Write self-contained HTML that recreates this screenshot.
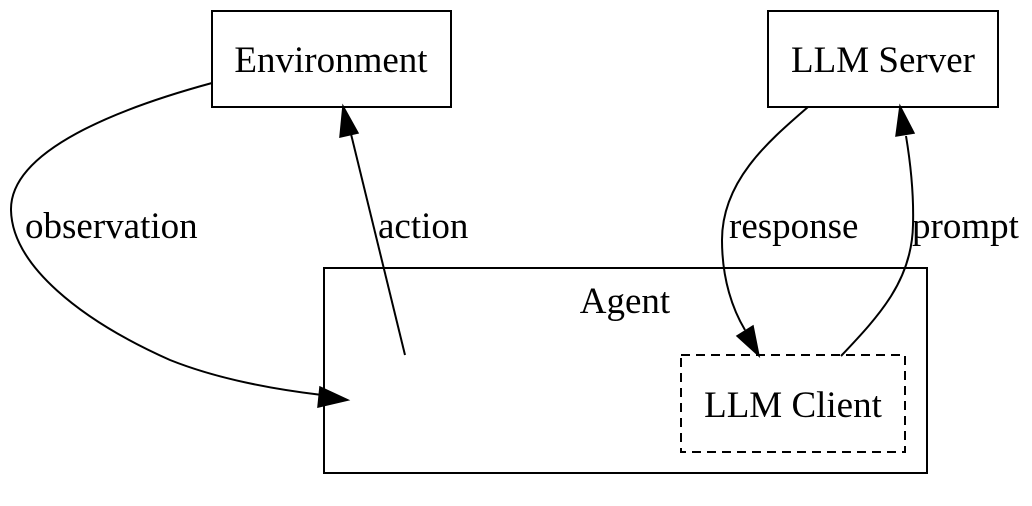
<!DOCTYPE html>
<html><head><meta charset="utf-8"><style>
html,body{margin:0;padding:0;background:#fff;}
svg{display:block;}
text{font-family:"Liberation Serif",serif;font-size:37px;fill:#000;}
</style></head><body>
<svg width="1032" height="506" viewBox="0 0 1032 506">
<g fill="none" stroke="#000" stroke-width="2">
<rect x="212" y="11" width="239" height="96"/>
<rect x="768" y="11" width="230" height="96"/>
<rect x="324" y="268" width="603" height="205"/>
<rect x="681" y="355" width="224" height="97" stroke-dasharray="9,6"/>
<path d="M212,83 C120,108 10,150 11,210 C12,265 80,320 170,360 C220,380 280,390 322,395"/>
<path d="M405,355 L351,134"/>
<path d="M808,107 C770,140 722,180 722,240 C722,280 733,310 745,330"/>
<path d="M841,356 C880,315 912,280 913,225 C914,190 910,160 906,136"/>
</g>
<g fill="#000" stroke="#000" stroke-width="1.5">
<polygon points="348,400 318,407 320,387"/>
<polygon points="343,106 358,133 340,137"/>
<polygon points="759,356 737,336 753,326"/>
<polygon points="900,106 914,133 896,136"/>
</g>
<text x="331" y="72" text-anchor="middle">Environment</text>
<text x="883" y="72" text-anchor="middle">LLM Server</text>
<text x="625" y="313" text-anchor="middle">Agent</text>
<text x="793" y="417" text-anchor="middle">LLM Client</text>
<text x="25" y="238">observation</text>
<text x="378" y="238">action</text>
<text x="729" y="238">response</text>
<text x="912" y="238">prompt</text>
</svg>
</body></html>
